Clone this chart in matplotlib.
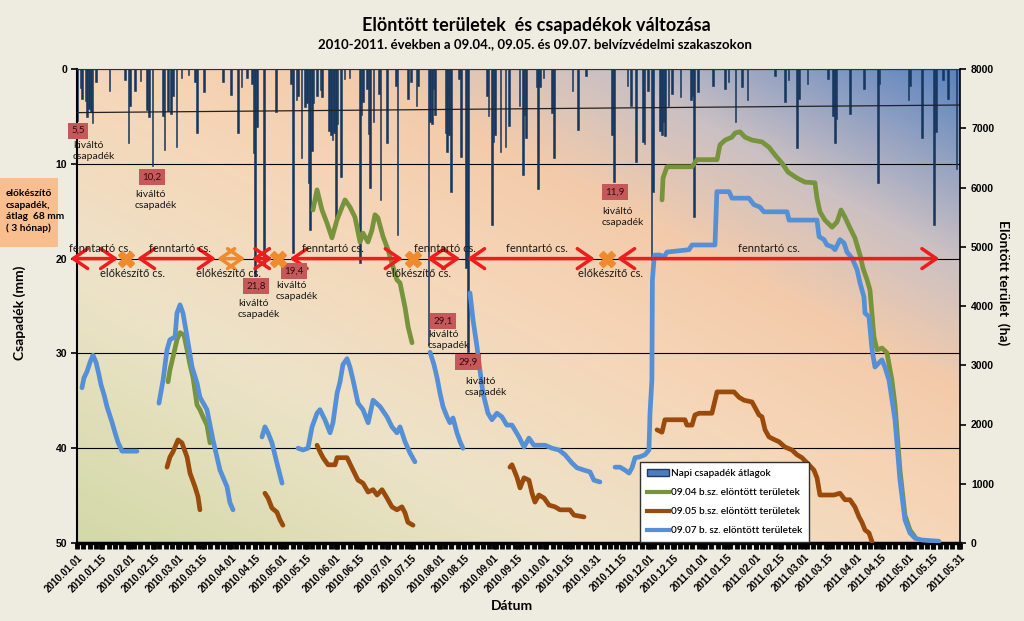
import datetime as dt
import numpy as np
import matplotlib
matplotlib.use("Agg")
import matplotlib.pyplot as plt
import matplotlib.dates as mdates
from matplotlib.colors import LinearSegmentedColormap
from matplotlib.patches import Patch, Rectangle
from matplotlib.lines import Line2D
from matplotlib.ticker import FixedLocator

# ---- adatok (nap sorszáma 2010.01.01-től) ----
START = dt.date(2010, 1, 1)
N_DAYS = 515

rain_day = [0, 2, 3, 5, 6, 7, 8, 9, 11, 19,
            28, 30, 31, 34, 37, 41, 42, 44, 50, 51,
            53, 55, 56, 58, 61, 65, 69, 70, 74, 85,
            90, 94, 96, 99, 102, 103, 104, 105, 109, 116,
            125, 126, 128, 129, 131, 133, 134, 135, 136, 137,
            138, 140, 142, 143, 147, 148, 149, 150, 151, 152,
            154, 156, 159, 165, 166, 167, 169, 170, 171, 173,
            176, 177, 181, 186, 187, 193, 195, 198, 199, 205,
            206, 207, 208, 209, 215, 216, 217, 218, 223, 224,
            227, 228, 239, 240, 242, 243, 244, 247, 250, 252,
            258, 260, 261, 262, 268, 269, 270, 272, 277, 278,
            289, 292, 297, 312, 313, 321, 323, 326, 330, 331,
            333, 335, 336, 340, 341, 342, 343, 345, 347, 352,
            358, 359, 360, 362, 371, 378, 380, 384, 388, 391,
            407, 413, 415, 420, 421, 426, 438, 441, 442, 443,
            451, 459, 467, 468, 485, 486, 493, 500, 501, 505,
            508, 513]
rain_mm = [5.5, 2.0, 3.2, 3.4, 5.1, 4.2, 4.5, 5.7, 1.4, 2.3,
           1.2, 7.8, 3.9, 2.3, 1.3, 4.3, 5.1, 10.2, 5.0, 8.5,
           4.4, 4.7, 2.9, 8.2, 0.9, 0.6, 1.4, 6.8, 2.4, 1.4,
           2.7, 6.8, 1.9, 1.0, 1.6, 8.9, 21.8, 6.1, 20.7, 4.5,
           1.6, 19.4, 3.3, 2.8, 9.4, 4.0, 3.6, 12.0, 17.0, 8.6,
           3.6, 2.9, 2.2, 3.0, 6.5, 7.0, 7.5, 6.8, 16.5, 5.8,
           11.4, 1.1, 0.9, 20.5, 4.9, 3.5, 2.1, 6.9, 12.5, 5.6,
           2.6, 13.8, 7.8, 1.8, 17.5, 3.2, 1.4, 3.9, 1.8, 29.1,
           5.6, 5.8, 2.1, 4.9, 6.7, 8.8, 7.0, 13.0, 1.1, 9.3,
           21.0, 29.9, 2.8, 5.0, 16.5, 7.7, 7.0, 8.8, 8.2, 6.0,
           3.9, 11.2, 4.9, 7.3, 1.9, 12.7, 1.9, 0.9, 4.6, 9.4,
           2.3, 6.4, 0.7, 7.0, 11.9, 1.8, 3.9, 9.8, 7.7, 7.9,
           2.3, 20.2, 13.0, 6.5, 7.0, 5.6, 7.1, 3.9, 2.6, 3.0,
           3.3, 2.8, 15.6, 2.4, 1.8, 2.1, 1.4, 5.6, 1.9, 3.3,
           0.7, 3.5, 1.2, 8.3, 3.2, 1.6, 1.1, 5.0, 7.8, 5.3,
           4.7, 2.1, 12.0, 1.6, 3.3, 1.8, 7.3, 16.5, 6.6, 1.2,
           3.2, 10.5]

trend_day = [0, 515]
trend_mm = [4.6, 3.8]

# 09.04 b.sz. elöntött területek (ha)
g0904_day = [
    [53.1, 54.2, 56.0, 58.3, 60.1, 62.4, 64.2, 65.9, 67.7, 70.0, 71.7, 73.5, 75.8, 77.6],
    [137.6, 140.0, 142.9, 145.8, 148.7, 151.6, 154.6, 156.3, 159.2, 162.1, 165.1, 166.8,
     169.7, 172.0, 173.8, 175.5, 178.5, 181.4, 184.3, 186.6, 188.4, 191.3, 193.1, 195.4],
    [341.2, 341.8, 344.1, 358.7, 361.6, 373.3, 375.0, 378.0, 382.0, 383.8, 386.7, 389.6,
     393.7, 399.5, 403.6, 407.1, 411.2, 414.7, 419.9, 424.6, 430.4, 431.6, 433.3, 436.2,
     440.4, 443.3, 445.6, 447.9, 450.8, 453.7, 456.7, 458.4, 460.8, 462.5, 464.8, 466.6,
     469.5, 472.4, 475.3, 477.1, 480.0, 482.9, 485.8, 488.8],
]
g0904_ha = [
    [2720, 2920, 3140, 3430, 3550, 3510, 3260, 3010, 2790, 2330, 2250, 2130, 1990, 1690],
    [5620, 5960, 5620, 5400, 5150, 5450, 5670, 5790, 5670, 5500, 5080, 5230,
     5080, 5280, 5540, 5490, 5170, 4950, 4660, 4440, 4390, 3980, 3650, 3380],
    [5790, 6160, 6350, 6350, 6470, 6470, 6720, 6800, 6850, 6920, 6940, 6850,
     6800, 6770, 6680, 6550, 6410, 6260, 6160, 6090, 6080, 5820, 5590, 5450,
     5330, 5420, 5620, 5500, 5320, 5150, 4860, 4640, 4440, 4270, 3480, 3260,
     3290, 3210, 2750, 2330, 1230, 470, 220, 100],
]

# 09.05 b.sz. elöntött területek (ha)
g0905_day = [
    [52.5, 54.2, 56.0, 58.9, 61.2, 64.2, 65.9, 68.8, 70.6, 71.7],
    [109.6, 111.4, 113.7, 116.6, 118.4, 120.1],
    [140.0, 141.7, 143.5, 146.4, 150.5, 151.7, 157.5, 161.0, 163.9, 166.8, 169.8,
     172.7, 175.0, 177.9, 180.8, 183.7, 186.6, 189.5, 191.3, 193.0, 196.0],
    [252.5, 253.7, 256.6, 258.4, 260.7, 263.6, 265.4, 267.1, 269.4, 272.4, 275.3,
     278.8, 281.7, 287.5, 289.9, 295.7],
    [338.3, 341.2, 342.9, 354.6, 355.7, 358.7, 360.4, 362.8, 370.3, 373.3, 383.2,
     386.1, 389.0, 393.7, 397.8, 399.5, 401.3, 403.6, 407.1, 409.4, 412.9, 417.0,
     419.9, 422.8, 426.9, 429.8, 431.6, 433.3, 441.5, 445.0, 447.9, 450.8, 453.7,
     456.1, 457.8, 459.6, 461.9, 463.7],
]
g0905_ha = [
    [1280, 1450, 1540, 1740, 1690, 1450, 1180, 950, 780, 560],
    [840, 760, 590, 520, 390, 300],
    [1650, 1540, 1440, 1320, 1320, 1440, 1440, 1230, 1060, 1010, 860,
     900, 810, 900, 760, 610, 560, 610, 510, 350, 300],
    [1280, 1320, 1110, 930, 1100, 1060, 840, 690, 810, 760, 640,
     610, 560, 560, 470, 440],
    [1910, 1870, 2080, 2080, 1990, 1990, 2160, 2190, 2190, 2550, 2550,
     2460, 2410, 2380, 2160, 2130, 1910, 1790, 1740, 1710, 1620, 1570,
     1490, 1440, 1320, 1230, 1100, 810, 810, 840, 730, 730, 610,
     440, 350, 220, 170, 20],
]

# 09.07 b. sz. elöntött területek (ha)
g0907_day = [
    [2.9, 4.1, 5.8, 7.6, 9.3, 11.1, 12.8, 14.0, 15.8, 17.5, 20.4, 22.2, 23.9, 26.3, 35.0],
    [47.8, 50.2, 52.5, 54.2, 57.2, 58.3, 60.1, 61.8, 64.2, 67.1, 70.0, 71.7, 75.8,
     79.3, 83.4, 87.5, 89.2, 91.0],
    [107.9, 109.6, 111.4, 113.7, 116.6, 119.6],
    [128.9, 131.8, 134.7, 137.1, 140.0, 141.7, 144.6, 147.6, 149.3, 151.7, 153.4,
     155.1, 157.5, 159.2, 161.0, 163.9, 166.8, 169.8, 172.7, 176.8, 180.8, 183.7,
     186.6, 188.4, 191.3, 194.2, 197.1],
    [205.9, 208.2, 210.0, 211.7, 213.5, 215.8, 217.5, 219.3, 221.6, 223.4, 225.1],
    [229.2, 231.0, 233.3, 235.0, 236.8, 239.7, 242.0, 244.9, 247.8, 250.7, 253.7,
     257.8, 260.7, 263.6, 266.5, 273.0, 277.0, 281.1, 284.6, 288.7, 291.6, 295.7,
     299.2, 301.5, 305.0],
    [313.8, 316.7, 319.6, 322.0, 323.7, 325.5, 327.8, 331.3, 333.6, 334.2, 335.3,
     335.6, 336.5, 337.1, 340.0, 342.4, 344.1, 356.9, 358.7, 372.1, 373.2, 380.3,
     382.0, 391.9, 394.8, 398.3, 400.6, 414.1, 415.3, 431.6, 432.8, 435.7, 437.4,
     440.4, 442.1, 445.0, 447.4, 449.1, 452.0, 455.0, 456.7, 459.0, 459.6, 461.9,
     463.7, 465.4, 467.7, 469.5, 471.2, 473.6, 477.1, 480.0, 482.9, 485.8, 488.8,
     492.8, 502.7],
]
g0907_ha = [
    [2620, 2790, 2890, 3050, 3170, 3050, 2840, 2670, 2500, 2300, 2040, 1860, 1700, 1550, 1550],
    [2360, 2750, 3260, 3430, 3480, 3880, 4020, 3880, 3480, 2970, 2700, 2460, 2250,
     1740, 1230, 950, 680, 560],
    [1790, 1960, 1860, 1690, 1350, 1010],
    [1600, 1570, 1600, 1960, 2190, 2250, 2080, 1860, 2030, 2530, 2720,
     3010, 3110, 2970, 2750, 2360, 2250, 2030, 2410, 2300, 2130, 1960,
     1860, 1960, 1710, 1520, 1370],
    [3220, 3010, 2790, 2530, 2300, 2130, 2030, 2110, 1860, 1710, 1600],
    [4220, 3760, 3310, 2920, 2530, 2190, 2080, 2190, 2130, 1990, 1990,
     1790, 1620, 1770, 1650, 1650, 1600, 1570, 1490, 1350, 1270, 1230,
     1200, 1060, 1030],
    [1280, 1280, 1230, 1180, 1270, 1440, 1450, 1490, 1570, 2190, 2750,
     4440, 4780, 4860, 4860, 4830, 4910, 4950, 5030, 5030, 5930, 5930,
     5820, 5820, 5710, 5670, 5590, 5590, 5450, 5450, 5170, 5120, 5030,
     5000, 4950, 5120, 5060, 4910, 4810, 4610, 4390, 4150, 3880, 3820,
     3260, 2970, 3040, 3090, 2970, 2750, 2080, 1060, 390, 170, 80,
     50, 30],
]

# védekezési szakaszok
fenntarto_from = [-4, 35, 102, 124, 204, 227.5, 315]
fenntarto_to = [24, 81, 114, 190, 223.5, 302, 503]
fenntarto_label_day = [13.4, 60.1, 149.3, 214.6, 268.3, 403.6]
elokeszito_day = [28.6, 117.2, 196, 309.1]
elokeszito_arrow = [81.7, 98]
elokeszito_label_day = [32.1, 88.4, 199.2, 311.2]

kivalto_values = [5.5, 10.2, 21.8, 19.4, 29.1, 29.9, 11.9]
kivalto_box_day = [0.6, 43.7, 104.4, 126.6, 213.5, 228, 313.8]
kivalto_box_mm = [6.5, 11.4, 22.9, 21.3, 26.6, 30.9, 13.0]
kivalto_text_day = [-2.3, 33.8, 93.9, 116.1, 204.7, 226.3, 306.2]
kivalto_text_mm = [8.65, 13.8, 25.3, 23.4, 28.6, 33.5, 15.6]

xtick_labels = ["2010.01.01", "2010.01.15", "2010.02.01", "2010.02.15", "2010.03.01",
                "2010.03.15", "2010.04.01", "2010.04.15", "2010.05.01", "2010.05.15",
                "2010.06.01", "2010.06.15", "2010.07.01", "2010.07.15", "2010.08.01",
                "2010.08.15", "2010.09.01", "2010.09.15", "2010.10.01", "2010.10.15",
                "2010.10.31", "2010.11.15", "2010.12.01", "2010.12.15", "2011.01.01",
                "2011.01.15", "2011.02.01", "2011.02.15", "2011.03.01", "2011.03.15",
                "2011.04.01", "2011.04.15", "2011.05.01", "2011.05.15", "2011.05.31"]

# ---- stílus ----
TXT = ['Lato', 'DejaVu Sans']
NUM = ['Liberation Sans', 'DejaVu Sans']
C_BAR = '#17375E'
C_GREEN = '#77933C'
C_BROWN = '#9A4B0C'
C_BLUE = '#5590D6'
C_RED = '#EE1C1C'
C_ORANGE = '#F08A2E'

x0 = mdates.date2num(START)


def join(segs):
    out = []
    for s in segs:
        out += list(s) + [np.nan]
    return np.array(out, dtype=float)


fig = plt.figure(figsize=(10.24, 6.21), dpi=100, facecolor='#EEECE1')
L, R, B, T = 77 / 1024, 960 / 1024, 1 - 543 / 621, 1 - 69 / 621
rect = [L, B, R - L, T - B]

# háttér színátmenet
bg = fig.add_axes(rect, zorder=-1)
cmap = LinearSegmentedColormap.from_list('bg', [
    (0.0, '#D3D9A8'), (0.28, '#EDE3C8'), (0.5, '#F6D6B8'),
    (0.66, '#F3CBAA'), (0.8, '#CBC0C3'), (1.0, '#5A83C0')])
u = np.linspace(0, 1, 400)
v = np.linspace(0, 1, 220)
t = (u[None, :] + 1 - v[:, None]) / 2
bg.imshow(cmap(t)[:, :, :3], aspect='auto', extent=(0, 1, 0, 1), interpolation='bilinear')
bg.axis('off')

ax = fig.add_axes(rect)
ax.patch.set_visible(False)

# csapadék oszlopok (fordított tengely)
rain_x = x0 + np.array(rain_day)
ax.bar(rain_x, rain_mm, width=1.0, color=C_BAR, edgecolor=C_BAR, linewidth=0.4, zorder=2)
ax.plot(x0 + np.array(trend_day), trend_mm, color='#222222', lw=0.9, zorder=3)

ax.set_xlim(x0, x0 + N_DAYS)
ax.set_ylim(50, 0)
ax.set_yticks([0, 10, 20, 30, 40, 50])
ax.set_yticklabels(['0', '10', '20', '30', '40', '50'], fontsize=7.5,
                   fontweight='bold', family=NUM)
ax.grid(axis='y', color='black', lw=0.8)
ax.set_axisbelow(True)

tick_x = [mdates.date2num(dt.datetime.strptime(s, "%Y.%m.%d")) for s in xtick_labels]
ax.xaxis.set_major_locator(FixedLocator(tick_x))
ax.xaxis.set_minor_locator(FixedLocator(np.arange(x0, x0 + N_DAYS + 1, 3.7)))
ax.set_xticklabels(xtick_labels, rotation=45, ha='right', rotation_mode='anchor',
                   fontsize=7, fontweight='bold', family=NUM)
ax.tick_params(axis='x', which='both', length=4, width=3.5, color='black', pad=3)
ax.tick_params(axis='y', length=4, width=1.2, pad=3)
ax.spines['bottom'].set_linewidth(2.5)
ax.spines['left'].set_linewidth(1.5)
ax.spines['top'].set_color(C_BAR)
ax.spines['right'].set_visible(False)

# elöntött területek
ax2 = ax.twinx()
ax2.plot(x0 + join(g0907_day), join(g0907_ha), color=C_BLUE, lw=3.4,
         solid_joinstyle='round', solid_capstyle='round', zorder=3)
ax2.plot(x0 + join(g0905_day), join(g0905_ha), color=C_BROWN, lw=3.4,
         solid_joinstyle='round', solid_capstyle='round', zorder=3)
ax2.plot(x0 + join(g0904_day), join(g0904_ha), color=C_GREEN, lw=3.4,
         solid_joinstyle='round', solid_capstyle='round', zorder=2)
ax2.set_ylim(0, 8000)
ax2.set_yticks(range(0, 8001, 1000))
ax2.set_yticklabels([str(v) for v in range(0, 8001, 1000)], fontsize=7.5,
                    fontweight='bold', family=NUM)
ax2.tick_params(axis='y', length=4, width=1.2, pad=4)
for s in ['top', 'left', 'bottom']:
    ax2.spines[s].set_visible(False)
ax2.spines['right'].set_linewidth(1.2)

# szakasz nyilak
mm = ax.transData


def arrow(d1, d2, color):
    ax2.annotate('', xy=(x0 + d2, 20), xytext=(x0 + d1, 20), xycoords=mm, textcoords=mm,
                 annotation_clip=False,
                 arrowprops=dict(arrowstyle='<->,head_length=0.8,head_width=0.55',
                                 color=color, lw=2.5, shrinkA=0, shrinkB=0,
                                 mutation_scale=13))


for a, b in zip(fenntarto_from, fenntarto_to):
    arrow(a, b, C_RED)
arrow(elokeszito_arrow[0], elokeszito_arrow[1], C_ORANGE)
for d in elokeszito_day:
    ax2.plot([x0 + d], [20], marker='X', ms=11, color=C_ORANGE, mec=C_ORANGE,
             transform=mm, clip_on=False, zorder=5)

for d in fenntarto_label_day:
    ax2.text(x0 + d, 18.9, 'fenntartó cs.', transform=mm, ha='center', va='center',
             fontsize=8, family=TXT, color='#1A1A1A')
for d in elokeszito_label_day:
    ax2.text(x0 + d, 21.6, 'előkészítő cs.', transform=mm, ha='center', va='center',
             fontsize=8, family=TXT, color='#1A1A1A')

for val, bd, bm, td, tm in zip(kivalto_values, kivalto_box_day, kivalto_box_mm,
                               kivalto_text_day, kivalto_text_mm):
    ax2.text(x0 + bd, bm, f"{val:.1f}".replace('.', ','), transform=mm, ha='center',
             va='center', fontsize=7, family=TXT, color='#3A0A0A',
             bbox=dict(boxstyle='square,pad=0.35', fc='#C4585A', ec='none'))
    ax2.text(x0 + td, tm, 'kiváltó\ncsapadék', transform=mm, ha='left', va='center',
             fontsize=7.5, family=TXT, color='#1A1A1A', linespacing=1.3)

# jelmagyarázat
handles = [Patch(facecolor='#4A7EBB', edgecolor='#1F3864'),
           Line2D([], [], color=C_GREEN, lw=3),
           Line2D([], [], color=C_BROWN, lw=3),
           Line2D([], [], color=C_BLUE, lw=3)]
labels = ['Napi csapadék átlagok', '09.04 b.sz. elöntött területek',
          '09.05 b.sz. elöntött területek', '09.07 b. sz. elöntött területek']
leg = ax2.legend(handles, labels, loc='lower left', bbox_to_anchor=(640 / 1024, 1 - 542 / 621),
                 bbox_transform=fig.transFigure, frameon=True, fancybox=False,
                 edgecolor='#303030', framealpha=1, borderaxespad=0, handlelength=2.2,
                 handletextpad=0.2, labelspacing=1.0, borderpad=0.7,
                 prop={'family': TXT, 'size': 7.2, 'weight': 'semibold'})
leg.get_frame().set_linewidth(1.0)

# feliratok
fig.text(536 / 1024, 1 - 25 / 621, 'Elöntött területek  és csapadékok változása',
         ha='center', va='center', fontsize=13, fontweight='bold', family=TXT)
fig.text(535 / 1024, 1 - 44 / 621,
         '2010-2011. években a 09.04., 09.05. és 09.07. belvízvédelmi szakaszokon',
         ha='center', va='center', fontsize=9.5, fontweight='bold', family=TXT)
fig.text(20 / 1024, 1 - 313 / 621, 'Csapadék (mm)', rotation=90, ha='center', va='center',
         fontsize=10, fontweight='bold', family=TXT)
fig.text(1003 / 1024, 1 - 283 / 621, 'Elöntött terület  (ha)', rotation=-90, ha='center',
         va='center', fontsize=10, fontweight='bold', family=TXT)
fig.text(512 / 1024, 1 - 606 / 621, 'Dátum', ha='center', va='center', fontsize=10,
         fontweight='bold', family=TXT)

fig.patches.append(Rectangle((0, 1 - 247 / 621), 58 / 1024, 69 / 621,
                             transform=fig.transFigure, facecolor='#F9BE8E',
                             edgecolor='none', zorder=0))
fig.text(6 / 1024, 1 - 211 / 621, 'előkészítő\ncsapadék,\nátlag  68 mm\n( 3 hónap)',
         ha='left', va='center', fontsize=7.3, fontweight='bold', family=TXT,
         linespacing=1.3)

fig.savefig('out.png', dpi=100, facecolor=fig.get_facecolor())
